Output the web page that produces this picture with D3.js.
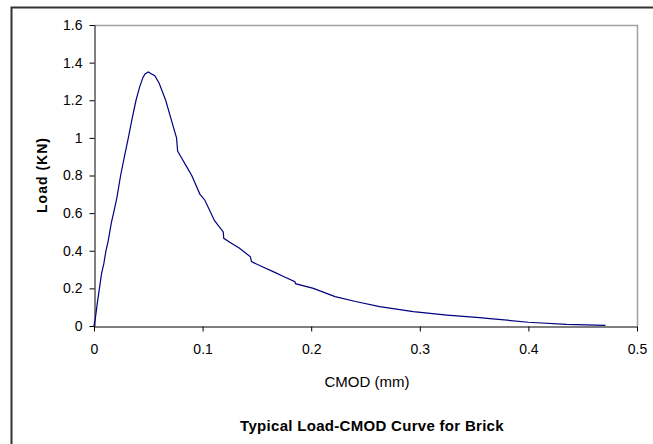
<!DOCTYPE html>
<html>
<head>
<meta charset="utf-8">
<script src="https://cdn.jsdelivr.net/npm/d3@7"></script>
<style>
  body { margin: 0; background: #fff; }
  text { font-family: "Liberation Sans", Arial, sans-serif; fill: #000; }
</style>
</head>
<body>
<div id="vis"></div>
<script>
var width = 653;
var height = 444;

// CMOD (mm) and load (KN)
var cmod = [0, 0.0005, 0.001, 0.003, 0.005, 0.007, 0.009, 0.011, 0.013, 0.016, 0.018, 0.021,
  0.0245, 0.028, 0.0316, 0.035, 0.0387, 0.042, 0.045, 0.047, 0.050, 0.053, 0.056, 0.060,
  0.066, 0.071, 0.076, 0.077, 0.080, 0.085, 0.090, 0.0976, 0.102, 0.111, 0.119, 0.1195,
  0.125, 0.134, 0.144, 0.145, 0.155, 0.165, 0.175, 0.185, 0.1855, 0.202, 0.222, 0.242,
  0.263, 0.294, 0.325, 0.355, 0.362, 0.40, 0.435, 0.471];
var load = [0, 0.02, 0.03, 0.12, 0.2, 0.28, 0.33, 0.4, 0.45, 0.55, 0.6, 0.68,
  0.8, 0.9, 1.0, 1.1, 1.2, 1.27, 1.32, 1.34, 1.35, 1.34, 1.33, 1.29,
  1.2, 1.1, 1.0, 0.93, 0.90, 0.85, 0.8, 0.7, 0.67, 0.56, 0.50, 0.466,
  0.445, 0.413, 0.368, 0.342, 0.315, 0.289, 0.262, 0.236, 0.225, 0.2, 0.156, 0.129,
  0.103, 0.076, 0.058, 0.044, 0.041, 0.02, 0.009, 0.003];

var xTicks = [0, 0.1, 0.2, 0.3, 0.4, 0.5];
var yTicks = [0, 0.2, 0.4, 0.6, 0.8, 1, 1.2, 1.4, 1.6];

var data = cmod.map((c, i) => ({x: c, y: load[i]}));

var svg = d3.select("#vis")
  .append("svg")
  .attr("width", width)
  .attr("height", height);

// outer chart frame (runs off the right and bottom edges)
svg.append("rect")
  .attr("x", 11.5)
  .attr("y", 7.5)
  .attr("width", 700)
  .attr("height", 500)
  .style("fill", "none")
  .style("stroke", "#333")
  .style("stroke-width", 2);

var plotLeft = 94, plotRight = 637, plotTop = 25, plotBottom = 326;

const x = d3.scaleLinear().domain([0, 0.5]).range([plotLeft, plotRight]);
const y = d3.scaleLinear().domain([0, 1.6]).range([plotBottom, plotTop]);

// plot area border (top and right are grey)
svg.append("path")
  .attr("d", `M${plotLeft},${plotTop + 0.5}H${plotRight + 0.5}V${plotBottom}`)
  .style("fill", "none")
  .style("stroke", "#a0a0a0")
  .style("stroke-width", 1.5);

const xAxis = d3.axisBottom(x)
  .tickValues(xTicks)
  .tickSize(5)
  .tickSizeOuter(0)
  .tickPadding(13)
  .tickFormat(d => d3.format("")(d));

const yAxis = d3.axisLeft(y)
  .tickValues(yTicks)
  .tickSize(5)
  .tickSizeOuter(0)
  .tickPadding(7)
  .tickFormat(d => d3.format("")(d));

var gx = svg.append("g")
  .attr("transform", `translate(0,${plotBottom + 0.5})`)
  .call(xAxis);
var gy = svg.append("g")
  .attr("transform", `translate(${plotLeft + 0.5},0)`)
  .call(yAxis);

[gx, gy].forEach(g => {
  g.attr("font-size", 14)
    .attr("font-family", '"Liberation Sans", Arial, sans-serif');
  g.selectAll("text").attr("fill", "#000");
  g.selectAll("line, path").attr("stroke", "#000");
});

var line = d3.line()
  .x(d => x(d.x))
  .y(d => y(d.y));

svg.append("path")
  .datum(data)
  .attr("d", line)
  .style("fill", "none")
  .style("stroke", "#000080")
  .style("stroke-width", 1.2);

svg.append("text")
  .attr("x", 367)
  .attr("y", 387)
  .attr("text-anchor", "middle")
  .style("font-size", "15px")
  .text("CMOD (mm)");

svg.append("text")
  .attr("transform", "translate(47,175) rotate(-90)")
  .attr("text-anchor", "middle")
  .style("font-size", "14px")
  .style("font-weight", "bold")
  .style("letter-spacing", "1px")
  .text("Load (KN)");

svg.append("text")
  .attr("x", 372)
  .attr("y", 431)
  .attr("text-anchor", "middle")
  .style("font-size", "15px")
  .style("font-weight", "bold")
  .style("letter-spacing", "0.3px")
  .text("Typical Load-CMOD Curve for Brick");
</script>
</body>
</html>
